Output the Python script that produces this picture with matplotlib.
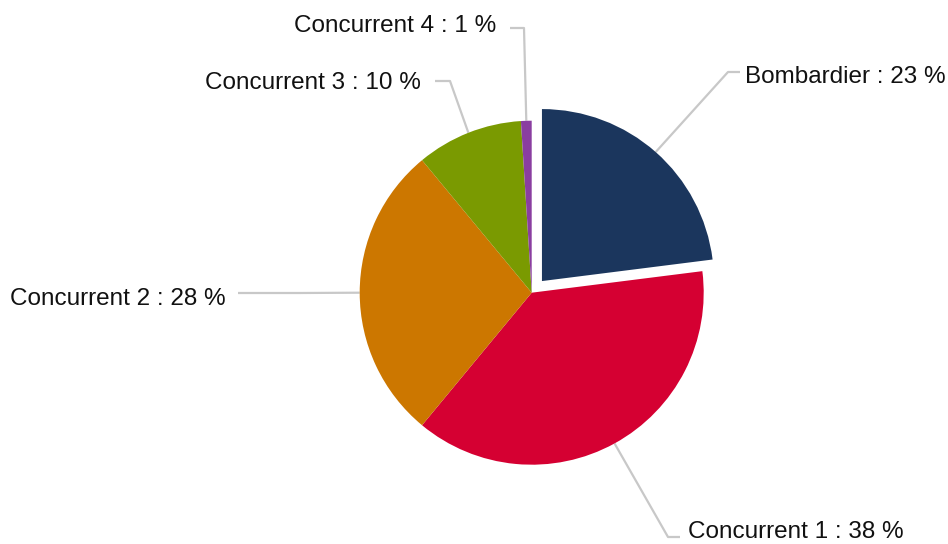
import numpy as np
import matplotlib.pyplot as plt

# data
labels = ["Bombardier", "Concurrent 1", "Concurrent 2", "Concurrent 3", "Concurrent 4"]
shares = [23, 38, 28, 10, 1]
colors = ["#1b365d", "#d50032", "#cc7700", "#7a9a01", "#8a3ea0"]

# layout (pixel coords, y down): elbow of leader, end of leader, text anchor, alignment
W, H = 948, 544
explode = [15.5, 0, 0, 0, 0]   # pie() takes this in data units here
elbows = [(728, 72), (668, 537), (300, 293), (450, 81), (524, 28)]
ends = [(740, 72), (680, 537), (238, 293), (435, 81), (510, 28)]
text_pos = [(745, 77), (688, 532), (226, 299), (421, 83), (496, 26)]
aligns = ["left", "left", "right", "right", "right"]

plt.rcParams['font.family'] = ['Liberation Sans', 'DejaVu Sans']

fig = plt.figure(figsize=(W / 100, H / 100), dpi=100)
ax = fig.add_axes([0, 0, 1, 1])

center = (531.7, H - 292.7)
radius = 172
wedges, _ = ax.pie(shares, colors=colors, explode=explode, startangle=90,
                   counterclock=False, center=center, radius=radius,
                   wedgeprops=dict(linewidth=0))
ax.set_xlim(0, W)
ax.set_ylim(0, H)
ax.set_aspect('equal')
ax.axis('off')

for i, w in enumerate(wedges):
    mid = np.deg2rad((w.theta1 + w.theta2) / 2)
    px = w.center[0] + w.r * np.cos(mid)
    py = w.center[1] + w.r * np.sin(mid)
    ex, ey = elbows[i]
    fx, fy = ends[i]
    ax.plot([px, ex, fx], [py, H - ey, H - fy], color="#c8c8c8", lw=1.6,
            solid_capstyle='butt', zorder=0)
    tx, ty = text_pos[i]
    ax.text(tx, H - ty, f"{labels[i]} : {shares[i]} %", ha=aligns[i],
            va='center', fontsize=17.5, color="#111111")

fig.savefig("out.png", dpi=100, facecolor="white")
